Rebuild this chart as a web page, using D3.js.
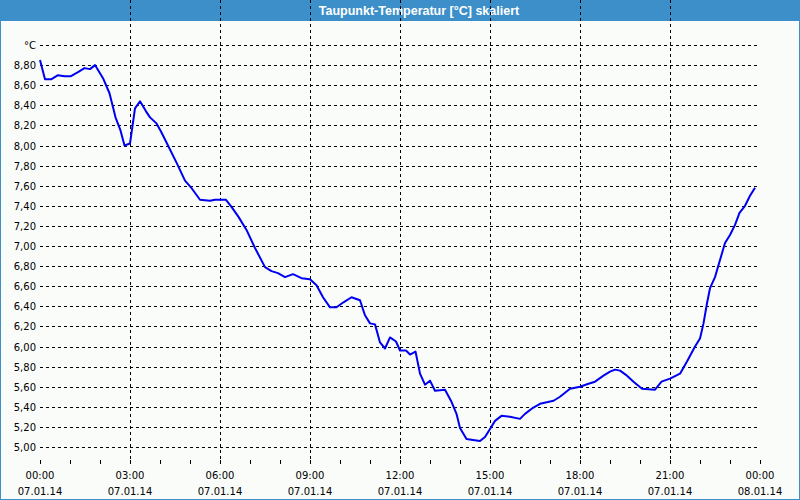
<!DOCTYPE html>
<html>
<head>
<meta charset="utf-8">
<script src="https://cdn.jsdelivr.net/npm/d3@7"></script>
<style>
  body { margin: 0; background: #fafcfa; }
  svg { display: block; }
</style>
</head>
<body>
<svg id="chart" width="800" height="500"></svg>
<script>
// readings of 07.01.14 (time of day, HH:MM) and dew point in °C
var times = ["00:00","00:10","00:23","00:36","00:49","01:02","01:16","01:29","01:40","01:50",
  "02:06","02:19","02:31","02:41","02:49","03:00","03:10","03:20","03:32","03:40",
  "03:53","04:02","04:16","04:34","04:50","05:04","05:20","05:40","05:50","06:12",
  "06:23","06:37","06:53","07:10","07:30","07:43","07:56","08:10","08:26","08:43",
  "09:00","09:13","09:26","09:40","09:53","10:07","10:23","10:40","10:50","11:00",
  "11:10","11:20","11:30","11:40","11:52","12:00","12:12","12:20","12:31","12:40",
  "12:50","13:00","13:10","13:30","13:43","13:53","14:00","14:13","14:26","14:40",
  "14:50","15:00","15:10","15:23","15:40","16:00","16:10","16:26","16:40","17:07",
  "17:20","17:40","18:00","18:17","18:30","18:47","19:00","19:10","19:20","19:34",
  "19:47","20:04","20:30","20:43","21:00","21:20","21:34","21:50","22:00","22:07",
  "22:14","22:20","22:30","22:40","22:50","23:00","23:10","23:19","23:30","23:40",
  "23:50"];
var dewPoint = [8.85,8.66,8.66,8.70,8.69,8.69,8.73,8.77,8.76,8.80,
  8.67,8.52,8.28,8.15,8.00,8.02,8.37,8.44,8.34,8.28,
  8.22,8.14,8.00,7.82,7.65,7.57,7.46,7.45,7.46,7.46,
  7.39,7.29,7.16,6.98,6.79,6.75,6.73,6.69,6.72,6.68,
  6.67,6.61,6.49,6.39,6.39,6.44,6.49,6.46,6.31,6.23,
  6.22,6.04,5.98,6.09,6.05,5.96,5.96,5.92,5.95,5.73,
  5.62,5.66,5.56,5.57,5.45,5.33,5.19,5.08,5.07,5.06,
  5.10,5.18,5.26,5.31,5.30,5.28,5.33,5.39,5.43,5.46,
  5.50,5.58,5.60,5.63,5.65,5.71,5.75,5.77,5.76,5.71,
  5.65,5.58,5.57,5.65,5.68,5.73,5.85,6.00,6.08,6.23,
  6.43,6.58,6.69,6.86,7.03,7.11,7.21,7.33,7.40,7.50,
  7.58];
var yTicks = [5.0,5.2,5.4,5.6,5.8,6.0,6.2,6.4,6.6,6.8,7.0,7.2,7.4,7.6,7.8,8.0,8.2,8.4,8.6,8.8,9.0];
var xTickLabels = [["00:00","07.01.14"],["03:00","07.01.14"],["06:00","07.01.14"],["09:00","07.01.14"],
  ["12:00","07.01.14"],["15:00","07.01.14"],["18:00","07.01.14"],["21:00","07.01.14"],["00:00","08.01.14"]];
var title = "Taupunkt-Temperatur [°C] skaliert";

var svg = d3.select("#chart"),
    W = 800, H = 500,
    left = 40, right = 760, top = 40, bottom = 460;

var parseTime = d3.timeParse("%d.%m.%y %H:%M");
var data = times.map(function (t, i) {
  return { date: parseTime("07.01.14 " + t), value: dewPoint[i] };
});

var start = parseTime("07.01.14 00:00"),
    end = parseTime("08.01.14 00:00");

var x = d3.scaleTime().domain([start, end]).range([left, right]),
    y = d3.scaleLinear().domain([5, 9]).range([447, 45]);

// window frame and title bar
svg.append("rect").attr("x", 0.5).attr("y", 0.5).attr("width", W - 1).attr("height", H - 1)
  .attr("fill", "#fafcfa").attr("stroke", "#3c8fc8");
svg.append("rect").attr("x", 0).attr("y", 0).attr("width", W).attr("height", 21).attr("fill", "#3c8fc8");
svg.append("text").attr("x", 419).attr("y", 15).attr("text-anchor", "middle")
  .attr("fill", "#fff").style("font", "bold 12.5px 'Liberation Sans', Arial, sans-serif")
  .text(title);

var g = svg.append("g");

// horizontal grid
g.selectAll(".hgrid").data(yTicks).enter().append("line")
  .attr("x1", left).attr("x2", right)
  .attr("y1", function (d) { return Math.round(y(d)) + 0.5; })
  .attr("y2", function (d) { return Math.round(y(d)) + 0.5; })
  .attr("stroke", "#000").attr("stroke-dasharray", "3,3");

// vertical grid every 3 hours
var majorTicks = d3.timeHour.every(3).range(start, d3.timeMinute.offset(end, 1));
g.selectAll(".vgrid").data(majorTicks.slice(1, -1)).enter().append("line")
  .attr("x1", function (d) { return Math.round(x(d)) + 0.5; })
  .attr("x2", function (d) { return Math.round(x(d)) + 0.5; })
  .attr("y1", top).attr("y2", bottom)
  .attr("stroke", "#000").attr("stroke-dasharray", "3,3");

// y labels
g.selectAll(".ylab").data(yTicks).enter().append("text")
  .attr("x", 36).attr("y", function (d) { return y(d) + 4; })
  .attr("text-anchor", "end")
  .style("font", "10px 'DejaVu Sans', Verdana, sans-serif")
  .attr("fill", "#000")
  .text(function (d) { return d === 9 ? "°C" : d3.format(".2f")(d).replace(".", ","); });

// x axis ticks (hourly) below the plot
var xAxis = d3.axisBottom(x).ticks(d3.timeHour.every(1)).tickSize(4).tickFormat("");
var ax = g.append("g").attr("transform", "translate(0," + bottom + ")").call(xAxis);
ax.select(".domain").remove();
ax.selectAll("line").attr("stroke", "#000");

// x labels, two lines
var xl = g.selectAll(".xlab").data(majorTicks).enter().append("text")
  .attr("x", function (d) { return x(d); })
  .attr("text-anchor", "middle")
  .style("font", "10px 'DejaVu Sans', Verdana, sans-serif")
  .attr("fill", "#000");
xl.append("tspan").attr("x", function (d) { return x(d); }).attr("y", 479)
  .text(function (d, i) { return xTickLabels[i][0]; });
xl.append("tspan").attr("x", function (d) { return x(d); }).attr("y", 495)
  .text(function (d, i) { return xTickLabels[i][1]; });

// plot frame
g.append("rect").attr("x", left + 0.5).attr("y", top + 0.5)
  .attr("width", right - left - 1).attr("height", bottom - top)
  .attr("fill", "none").attr("stroke", "#000");

// dew point line
var line = d3.line()
  .x(function (d) { return x(d.date); })
  .y(function (d) { return y(d.value); });

g.append("path").datum(data)
  .attr("d", line)
  .attr("fill", "none")
  .attr("stroke", "#0000f0")
  .attr("stroke-width", 2)
  .attr("stroke-linejoin", "round");
</script>
</body>
</html>
